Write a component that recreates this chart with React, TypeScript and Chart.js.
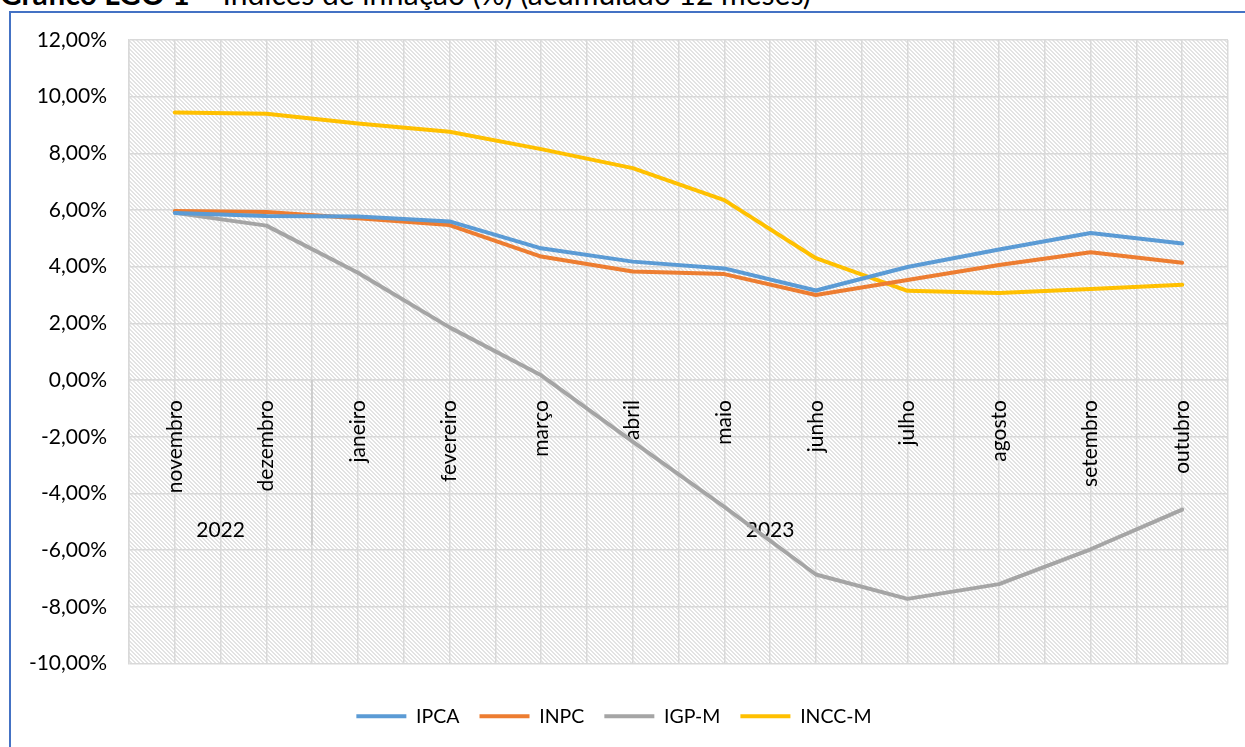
import { useEffect, useRef } from "react";
import { Chart, registerables } from "chart.js";

Chart.register(...registerables);

const months = ["novembro", "dezembro", "janeiro", "fevereiro", "março", "abril", "maio", "junho", "julho", "agosto", "setembro", "outubro"];
const years = ["2022", "2023"];
const yearStart = [0, 2];
const yearEnd = [1, 11];

const ipca = [5.90, 5.79, 5.77, 5.60, 4.65, 4.18, 3.94, 3.16, 3.99, 4.61, 5.19, 4.82];
const inpc = [5.97, 5.93, 5.71, 5.47, 4.36, 3.83, 3.74, 3.00, 3.53, 4.06, 4.51, 4.14];
const igpm = [5.90, 5.45, 3.79, 1.86, 0.17, -2.17, -4.47, -6.86, -7.72, -7.20, -5.97, -4.57];
const inccm = [9.44, 9.40, 9.05, 8.76, 8.15, 7.48, 6.35, 4.30, 3.15, 3.07, 3.21, 3.36];

const seriesNames = ["IPCA", "INPC", "IGP-M", "INCC-M"];
const seriesColors = ["#5B9BD5", "#ED7D31", "#A5A5A5", "#FFC000"];
const seriesValues = [ipca, inpc, igpm, inccm];

const yMin = -10;
const yMax = 12;
const yStep = 2;

const FONT = "Lato, 'Open Sans', sans-serif";

const fmt = (v: number) => v.toFixed(2).replace(".", ",") + "%";

const hatchPlugin = {
  id: "hatch",
  beforeDraw(chart: any) {
    const { ctx, chartArea: a } = chart;
    const p = document.createElement("canvas");
    p.width = 4;
    p.height = 4;
    const pc = p.getContext("2d")!;
    pc.fillStyle = "#ffffff";
    pc.fillRect(0, 0, 4, 4);
    pc.fillStyle = "#e3e3e3";
    for (let i = 0; i < 4; i++) {
      pc.fillRect(i, i, 1, 1);
      pc.fillRect((i + 1) % 4, i, 1, 1);
    }
    const pat = ctx.createPattern(p, "repeat");
    ctx.save();
    ctx.fillStyle = pat;
    ctx.fillRect(a.left, a.top, a.right - a.left, a.bottom - a.top);
    ctx.restore();
  },
};

const yearPlugin = {
  id: "years",
  beforeDatasetsDraw(chart: any) {
    const { ctx } = chart;
    const xs = chart.scales.x;
    const ys = chart.scales.y;
    const y0 = ys.getPixelForValue(0);
    ctx.save();
    ctx.strokeStyle = "#c8c8c8";
    ctx.lineWidth = 1.5;
    for (let k = 1; k < years.length; k++) {
      const sx = Math.round(xs.getPixelForValue(yearStart[k] - 0.5));
      ctx.beginPath();
      ctx.moveTo(sx, y0);
      ctx.lineTo(sx, y0 + 165);
      ctx.stroke();
    }
    ctx.fillStyle = "#000";
    ctx.font = `21px ${FONT}`;
    ctx.textAlign = "center";
    ctx.textBaseline = "middle";
    years.forEach((yr, k) => {
      const cx = xs.getPixelForValue((yearStart[k] + yearEnd[k]) / 2);
      ctx.fillText(yr, cx, y0 + 150);
    });
    ctx.restore();
  },
};

export default function App() {
  const ref = useRef<HTMLCanvasElement>(null);

  useEffect(() => {
    if (!ref.current) return;
    const chart = new Chart(ref.current, {
      type: "line",
      data: {
        datasets: seriesNames.map((name, s) => ({
          label: name,
          data: seriesValues[s].map((v, i) => ({ x: i, y: v })),
          borderColor: seriesColors[s],
          backgroundColor: seriesColors[s],
          borderWidth: 4,
          pointRadius: 0,
          pointHoverRadius: 0,
          borderCapStyle: "round",
          borderJoinStyle: "round",
          tension: 0,
          fill: false,
        })),
      },
      options: {
        animation: false,
        responsive: false,
        devicePixelRatio: 1,
        layout: { padding: { left: 0, right: 17, top: 40, bottom: 11 } },
        plugins: {
          legend: {
            position: "bottom",
            labels: {
              usePointStyle: true,
              pointStyle: "line",
              pointStyleWidth: 50,
              boxHeight: 20,
              padding: 20,
              color: "#000",
              font: { family: FONT, size: 19.5 },
            },
          },
          tooltip: { enabled: false },
        },
        scales: {
          x: {
            type: "linear",
            position: { y: 0 } as any,
            min: -0.5,
            max: 11.5,
            grid: { color: "#d9d9d9", lineWidth: 1.5, drawTicks: false },
            border: { color: "#d9d9d9", width: 1.5 },
            ticks: {
              stepSize: 0.5,
              autoSkip: false,
              minRotation: 90,
              maxRotation: 90,
              padding: 20,
              color: "#000",
              font: { family: FONT, size: 21 },
              callback: (v: any) => (Number.isInteger(v) ? months[v] : ""),
            },
            afterFit: (s: any) => {
              s.paddingLeft = 0;
              s.paddingRight = 0;
              s.paddingTop = 0;
              s.paddingBottom = 0;
            },
          },
          x2: {
            type: "linear",
            position: "bottom",
            min: 0,
            max: 1,
            grid: { display: false },
            border: { display: false },
            ticks: { display: false },
            afterFit: (s: any) => {
              s.height = 23;
            },
          },
          y: {
            min: yMin,
            max: yMax,
            ticks: {
              stepSize: yStep,
              padding: 22,
              color: "#000",
              font: { family: FONT, size: 21 },
              callback: (v: any) => fmt(Number(v)),
            },
            grid: { color: "#d9d9d9", lineWidth: 1.5, drawTicks: false },
            border: { color: "#d9d9d9", width: 1.5 },
            afterFit: (s: any) => {
              s.width = 129;
            },
          },
        },
      } as any,
      plugins: [hatchPlugin, yearPlugin],
    });
    return () => chart.destroy();
  }, []);

  return (
    <div style={{ position: "fixed", left: 0, top: 0, width: 1245, height: 747, overflow: "hidden", background: "#fff" }}>
      <div
        style={{
          position: "absolute",
          left: 9,
          top: 11,
          width: 1400,
          height: 900,
          border: "2px solid #4472C4",
        }}
      />
      <div
        style={{
          position: "absolute",
          left: 0,
          top: -25,
          fontFamily: FONT,
          fontSize: 30,
          lineHeight: "36px",
          whiteSpace: "nowrap",
          color: "#000",
        }}
      >
        <b>Gráfico LGO 1</b> – Índices de inflação (%) (acumulado 12 meses)
      </div>
      <canvas ref={ref} width={1245} height={747} style={{ position: "absolute", left: 0, top: 0, width: 1245, height: 747 }} />
    </div>
  );
}
